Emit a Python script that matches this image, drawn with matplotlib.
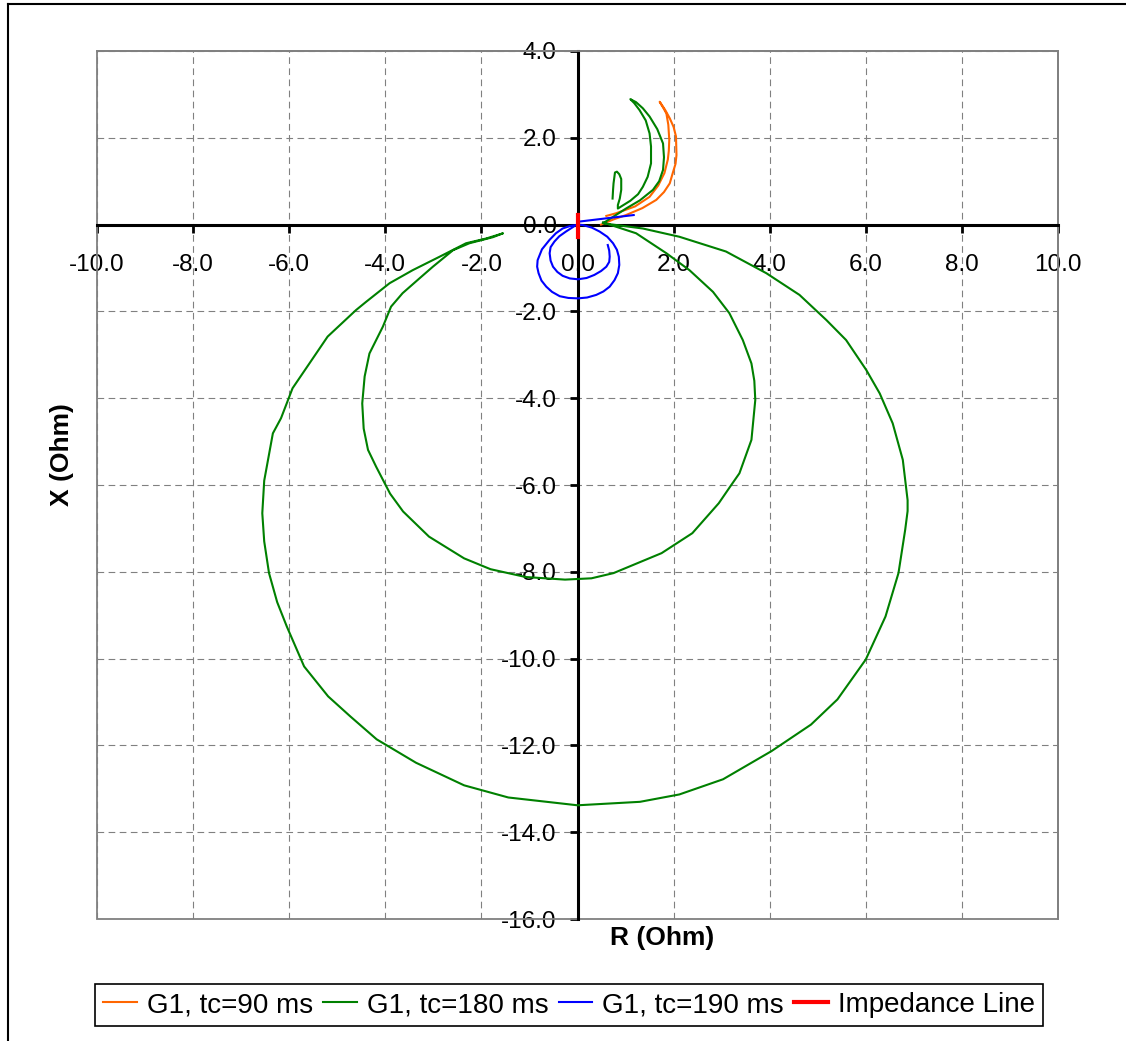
import numpy as np
from matplotlib import pyplot as plt
from matplotlib.lines import Line2D
from matplotlib.patches import Rectangle

plt.rcParams['font.family'] = ['Liberation Sans', 'DejaVu Sans']
plt.rcParams['axes.unicode_minus'] = False

"""
Impedance trajectories (R, X) read off the chart
"""
# G1, tc=90 ms
r_90 = [0.49, 0.75, 1.01, 1.35, 1.64, 1.80, 1.92, 1.98, 2.04, 2.06, 2.05, 2.00, 1.92, 1.82,
        1.71, 1.78, 1.85, 1.89, 1.91, 1.90, 1.88, 1.81, 1.68, 1.50, 1.20, 0.80, 0.60]
x_90 = [0.00, 0.12, 0.22, 0.38, 0.57, 0.75, 0.95, 1.18, 1.40, 1.60, 2.03, 2.25, 2.45, 2.65,
        2.83, 2.70, 2.56, 2.30, 1.95, 1.70, 1.50, 1.19, 0.90, 0.64, 0.42, 0.26, 0.20]

# G1, tc=180 ms
r_180 = [0.73, 0.74, 0.75, 0.78, 0.82, 0.87, 0.91, 0.91, 0.88, 0.84, 0.84, 1.10, 1.26, 1.36,
         1.46, 1.53, 1.53, 1.50, 1.42, 1.29, 1.18, 1.10, 1.22, 1.36, 1.50, 1.66, 1.78, 1.80,
         1.78, 1.70, 1.57, 1.30, 1.01, 0.53,
         1.36, 2.12, 3.09, 3.93, 4.62, 5.18, 5.59, 6.01, 6.29, 6.56, 6.77, 6.87, 6.87, 6.82,
         6.68, 6.41, 6.00, 5.41, 4.86, 4.04, 3.03, 2.12, 1.30, 0.00, -1.44, -2.36, -3.36,
         -4.18, -4.73, -5.19, -5.69, -6.05, -6.25, -6.42, -6.52, -6.56, -6.52, -6.34, -6.17,
         -5.93, -5.58, -5.20, -4.61, -4.40, -3.91, -3.43, -2.87, -2.32, -1.90, -1.55,
         -1.76, -2.25, -2.59, -3.01, -3.29, -3.64, -3.88, -4.05, -4.33, -4.43, -4.48, -4.45,
         -4.36, -4.19, -3.90, -3.63, -3.09, -2.36, -1.81, -1.08, -0.26, 0.29, 0.75, 1.75,
         2.39, 2.94, 3.20, 3.37, 3.62, 3.70, 3.68, 3.62, 3.44, 3.16, 2.82, 2.33, 1.85, 1.22,
         0.53]
x_180 = [0.60, 0.80, 0.95, 1.20, 1.22, 1.16, 1.05, 0.80, 0.60, 0.45, 0.37, 0.55, 0.70, 0.87,
         1.10, 1.41, 1.80, 2.10, 2.40, 2.64, 2.80, 2.89, 2.82, 2.68, 2.49, 2.20, 1.87, 1.55,
         1.26, 1.00, 0.80, 0.56, 0.37, 0.03,
         -0.09, -0.28, -0.62, -1.12, -1.62, -2.20, -2.66, -3.35, -3.89, -4.58, -5.42, -6.35,
         -6.60, -7.03, -8.03, -9.03, -10.02, -10.94, -11.52, -12.13, -12.78, -13.13, -13.30,
         -13.38, -13.20, -12.92, -12.40, -11.86, -11.33, -10.87, -10.18, -9.26, -8.70, -8.03,
         -7.30, -6.65, -5.90, -4.81, -4.46, -3.77, -3.20, -2.58, -1.97, -1.78, -1.35, -1.05,
         -0.74, -0.43, -0.32, -0.20,
         -0.29, -0.43, -0.59, -0.97, -1.24, -1.58, -1.89, -2.35, -2.97, -3.50, -4.12, -4.70,
         -5.19, -5.58, -6.20, -6.61, -7.19, -7.69, -7.94, -8.12, -8.18, -8.15, -8.03, -7.57,
         -7.11, -6.42, -6.00, -5.73, -4.96, -4.04, -3.60, -3.20, -2.66, -2.04, -1.55, -1.05,
         -0.66, -0.20, 0.05]

# G1, tc=190 ms
r_190 = [1.17, 0.04, 0.00, 0.11, 0.30, 0.46, 0.62, 0.74, 0.82, 0.86, 0.87, 0.84, 0.77, 0.67,
         0.54, 0.39, 0.20, 0.01, -0.19, -0.37, -0.53, -0.65, -0.75, -0.81, -0.84, -0.83,
         -0.74, -0.58, -0.45, -0.31, -0.15, -0.03, -0.24, -0.38, -0.48, -0.56, -0.58, -0.56,
         -0.51, -0.42, -0.31, -0.16, 0.01, 0.19, 0.35, 0.49, 0.60, 0.66, 0.67, 0.66, 0.63]
x_190 = [0.22, 0.07, 0.00, -0.01, -0.07, -0.16, -0.28, -0.43, -0.58, -0.74, -0.93, -1.12,
         -1.28, -1.43, -1.54, -1.62, -1.68, -1.70, -1.69, -1.65, -1.55, -1.43, -1.29, -1.12,
         -0.97, -0.82, -0.57, -0.35, -0.20, -0.09, -0.03, -0.01, -0.16, -0.27, -0.39, -0.52,
         -0.66, -0.83, -0.97, -1.09, -1.18, -1.24, -1.26, -1.23, -1.16, -1.07, -0.97, -0.86,
         -0.74, -0.60, -0.47]

# Impedance line
r_line = [0.0, 0.0]
x_line = [-0.28, 0.22]

labels = ['G1, tc=90 ms', 'G1, tc=180 ms', 'G1, tc=190 ms', 'Impedance Line']

"""
Plotting
"""
fig = plt.figure(figsize=(11.26, 10.41), dpi=100)
ax = fig.add_axes([97/1126, 1-919/1041, 961/1126, 868/1041])

ax.plot(r_90, x_90, color='#FF6600', lw=1.5, zorder=3, label=labels[0])
ax.plot(r_180, x_180, color='#008000', lw=1.5, zorder=3, label=labels[1])
ax.plot(r_190, x_190, color='#0000FF', lw=1.5, zorder=3, label=labels[2])
ax.plot(r_line, x_line, color='#FF0000', lw=3, zorder=4, label=labels[3])

ax.set_xlim(-10, 10)
ax.set_ylim(-16, 4)
ax.set_xticks(np.arange(-10, 10.1, 2))
ax.set_yticks(np.arange(-16, 4.1, 2))
ax.set_xticklabels(['%.1f' % v for v in np.arange(-10, 10.1, 2)])
ax.set_yticklabels(['%.1f' % v for v in np.arange(-16, 4.1, 2)])

ax.grid(True, color='#808080', linestyle=(0, (6, 4)), lw=0.8)
ax.set_axisbelow(True)

# axes through origin
ax.spines['left'].set_position(('data', 0))
ax.spines['bottom'].set_position(('data', 0))
for s in ['left', 'bottom']:
    ax.spines[s].set_color('black')
    ax.spines[s].set_linewidth(2.2)
for s in ['top', 'right']:
    ax.spines[s].set_color('#808080')
    ax.spines[s].set_linewidth(1.3)
ax.add_patch(Rectangle((0, 0), 1, 1, transform=ax.transAxes, fill=False,
                       edgecolor='#808080', lw=1.3, zorder=2, clip_on=False))

ax.tick_params(axis='both', direction='out', length=6, width=2, color='black',
               labelsize=17.5)
ax.tick_params(axis='x', pad=15)
ax.tick_params(axis='y', pad=9)

fig.text(62/1126, 1-455/1041, 'X (Ohm)', rotation=90, ha='center', va='center',
         fontsize=19, fontweight='bold')
fig.text(662/1126, 1-938/1041, 'R (Ohm)', ha='center', va='center',
         fontsize=19, fontweight='bold')

leg = fig.legend(loc='center', bbox_to_anchor=(569/1126, 1-1005/1041), ncol=4,
                 fontsize=20, handlelength=1.22, handletextpad=0.36, columnspacing=0.36,
                 borderpad=0.3, fancybox=False, framealpha=1, edgecolor='black')
leg.get_frame().set_linewidth(1.2)

# outer chart frame (cropped)
fig.add_artist(Line2D([8/1126, 8/1126], [0, 1-4/1041], transform=fig.transFigure,
                      color='black', lw=1.5))
fig.add_artist(Line2D([8/1126, 1], [1-4/1041, 1-4/1041], transform=fig.transFigure,
                      color='black', lw=1.5))

fig.savefig('out.png', dpi=100)
